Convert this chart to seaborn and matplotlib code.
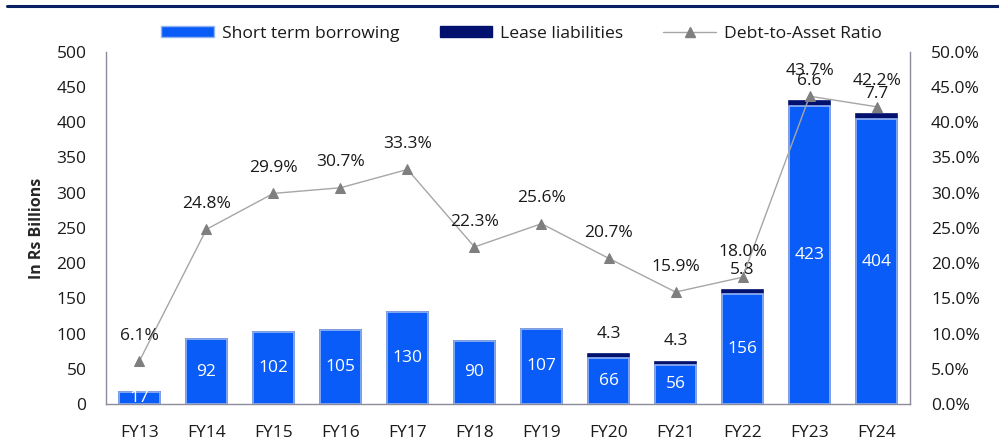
import numpy as np
import pandas as pd
import matplotlib
matplotlib.use("Agg")
import matplotlib.pyplot as plt
from matplotlib.lines import Line2D
from matplotlib.patches import Patch
from matplotlib.ticker import FuncFormatter, MultipleLocator
import seaborn as sns

# ---- data (Rs billions / %) ----
years = ["FY13", "FY14", "FY15", "FY16", "FY17", "FY18",
         "FY19", "FY20", "FY21", "FY22", "FY23", "FY24"]
short_term = [17, 92, 102, 105, 130, 90, 107, 66, 56, 156, 423, 404]
lease = [0, 0, 0, 0, 0, 0, 0, 4.3, 4.3, 5.8, 6.6, 7.7]
debt_to_asset = [6.1, 24.8, 29.9, 30.7, 33.3, 22.3, 25.6, 20.7, 15.9, 18.0, 43.7, 42.2]

BLUE = "#0A5CF8"
BLUE_EDGE = "#93B4F2"
NAVY = "#02106E"
GREY_LINE = "#A6A6A6"
GREY_MARK = "#7F7F7F"
SPINE = "#8C8C9C"
TEXT = "#1A1A1A"

sns.set_theme(style="white")
plt.rcParams["font.family"] = ["Open Sans", "DejaVu Sans"]

df = pd.DataFrame({
    "year": years,
    "short": short_term,
    "lease": lease,
    "total": np.array(short_term) + np.array(lease),
    "ratio": debt_to_asset,
})

fig = plt.figure(figsize=(9.99, 4.43), dpi=100)
ax = fig.add_axes([0.106, 0.088, 0.805, 0.795])

# stacked bars: total in navy underneath, short-term borrowing on top of it
sns.barplot(data=df, x="year", y="total", color=NAVY, width=0.6,
            saturation=1, ax=ax, edgecolor=NAVY, linewidth=1.2)
sns.barplot(data=df, x="year", y="short", color=BLUE, width=0.6,
            saturation=1, ax=ax, edgecolor=BLUE_EDGE, linewidth=1.2)

ax.set_xlim(-0.5, len(years) - 0.5)
ax.set_ylim(0, 500)
ax.yaxis.set_major_locator(MultipleLocator(50))
ax.set_xlabel("")
ax.set_ylabel("In Rs Billions", fontsize=11.5, fontweight="bold", labelpad=8)
ax.tick_params(axis="y", labelsize=12.5, length=0, pad=14)
ax.tick_params(axis="x", labelsize=12.5, length=0, pad=15)
for lbl in ax.get_xticklabels() + ax.get_yticklabels():
    lbl.set_color(TEXT)
for side in ["top", "right"]:
    ax.spines[side].set_visible(False)
for side in ["left", "bottom"]:
    ax.spines[side].set_color(SPINE)
    ax.spines[side].set_linewidth(1.0)

# value labels inside the short-term bars
for i, v in enumerate(short_term):
    ax.text(i, v / 2, f"{v:g}", ha="center", va="center",
            color="white", fontsize=12.5)

# lease liability labels above the stack
for i, (s, l) in enumerate(zip(short_term, lease)):
    if l > 0:
        ax.annotate(f"{l:g}", (i, s + l), xytext=(0, 9),
                    textcoords="offset points", ha="center", va="bottom",
                    fontsize=12.5, color=TEXT)

# debt-to-asset ratio on the secondary axis
ax2 = ax.twinx()
sns.lineplot(x=np.arange(len(years)), y=debt_to_asset, ax=ax2,
             color=GREY_LINE, linewidth=1.0, marker="^", markersize=7,
             markerfacecolor=GREY_MARK, markeredgecolor=GREY_MARK)
ax2.set_ylim(0, 50)
ax2.yaxis.set_major_locator(MultipleLocator(5))
ax2.yaxis.set_major_formatter(FuncFormatter(lambda v, _: f"{v:.1f}%"))
ax2.tick_params(axis="y", labelsize=12.5, length=0, pad=15)
for lbl in ax2.get_yticklabels():
    lbl.set_color(TEXT)
for side in ["top", "left", "bottom"]:
    ax2.spines[side].set_visible(False)
ax2.spines["right"].set_color(SPINE)
ax2.spines["right"].set_linewidth(1.0)

for i, r in enumerate(debt_to_asset):
    ax2.annotate(f"{r:.1f}%", (i, r), xytext=(0, 12.5),
                 textcoords="offset points", ha="center", va="bottom",
                 fontsize=12.5, color=TEXT)

# legend across the top
handles = [
    Patch(facecolor=BLUE, edgecolor=BLUE_EDGE, label="Short term borrowing"),
    Patch(facecolor=NAVY, edgecolor=NAVY, label="Lease liabilities"),
    Line2D([0], [0], color=GREY_LINE, lw=1.0, marker="^", markersize=7,
           markerfacecolor=GREY_MARK, markeredgecolor=GREY_MARK,
           label="Debt-to-Asset Ratio"),
]
leg = fig.legend(handles=handles, loc="center", bbox_to_anchor=(0.522, 0.924),
                 ncol=3, frameon=False, fontsize=12.6, handlelength=3.0,
                 handleheight=0.65, columnspacing=2.3, handletextpad=0.45)
for t in leg.get_texts():
    t.set_color(TEXT)

# rule along the top edge
fig.add_artist(Line2D([0.007, 1.0], [0.986, 0.986], color="#0B1F63",
                      lw=2.2, transform=fig.transFigure))

fig.savefig("out.png", dpi=100)
